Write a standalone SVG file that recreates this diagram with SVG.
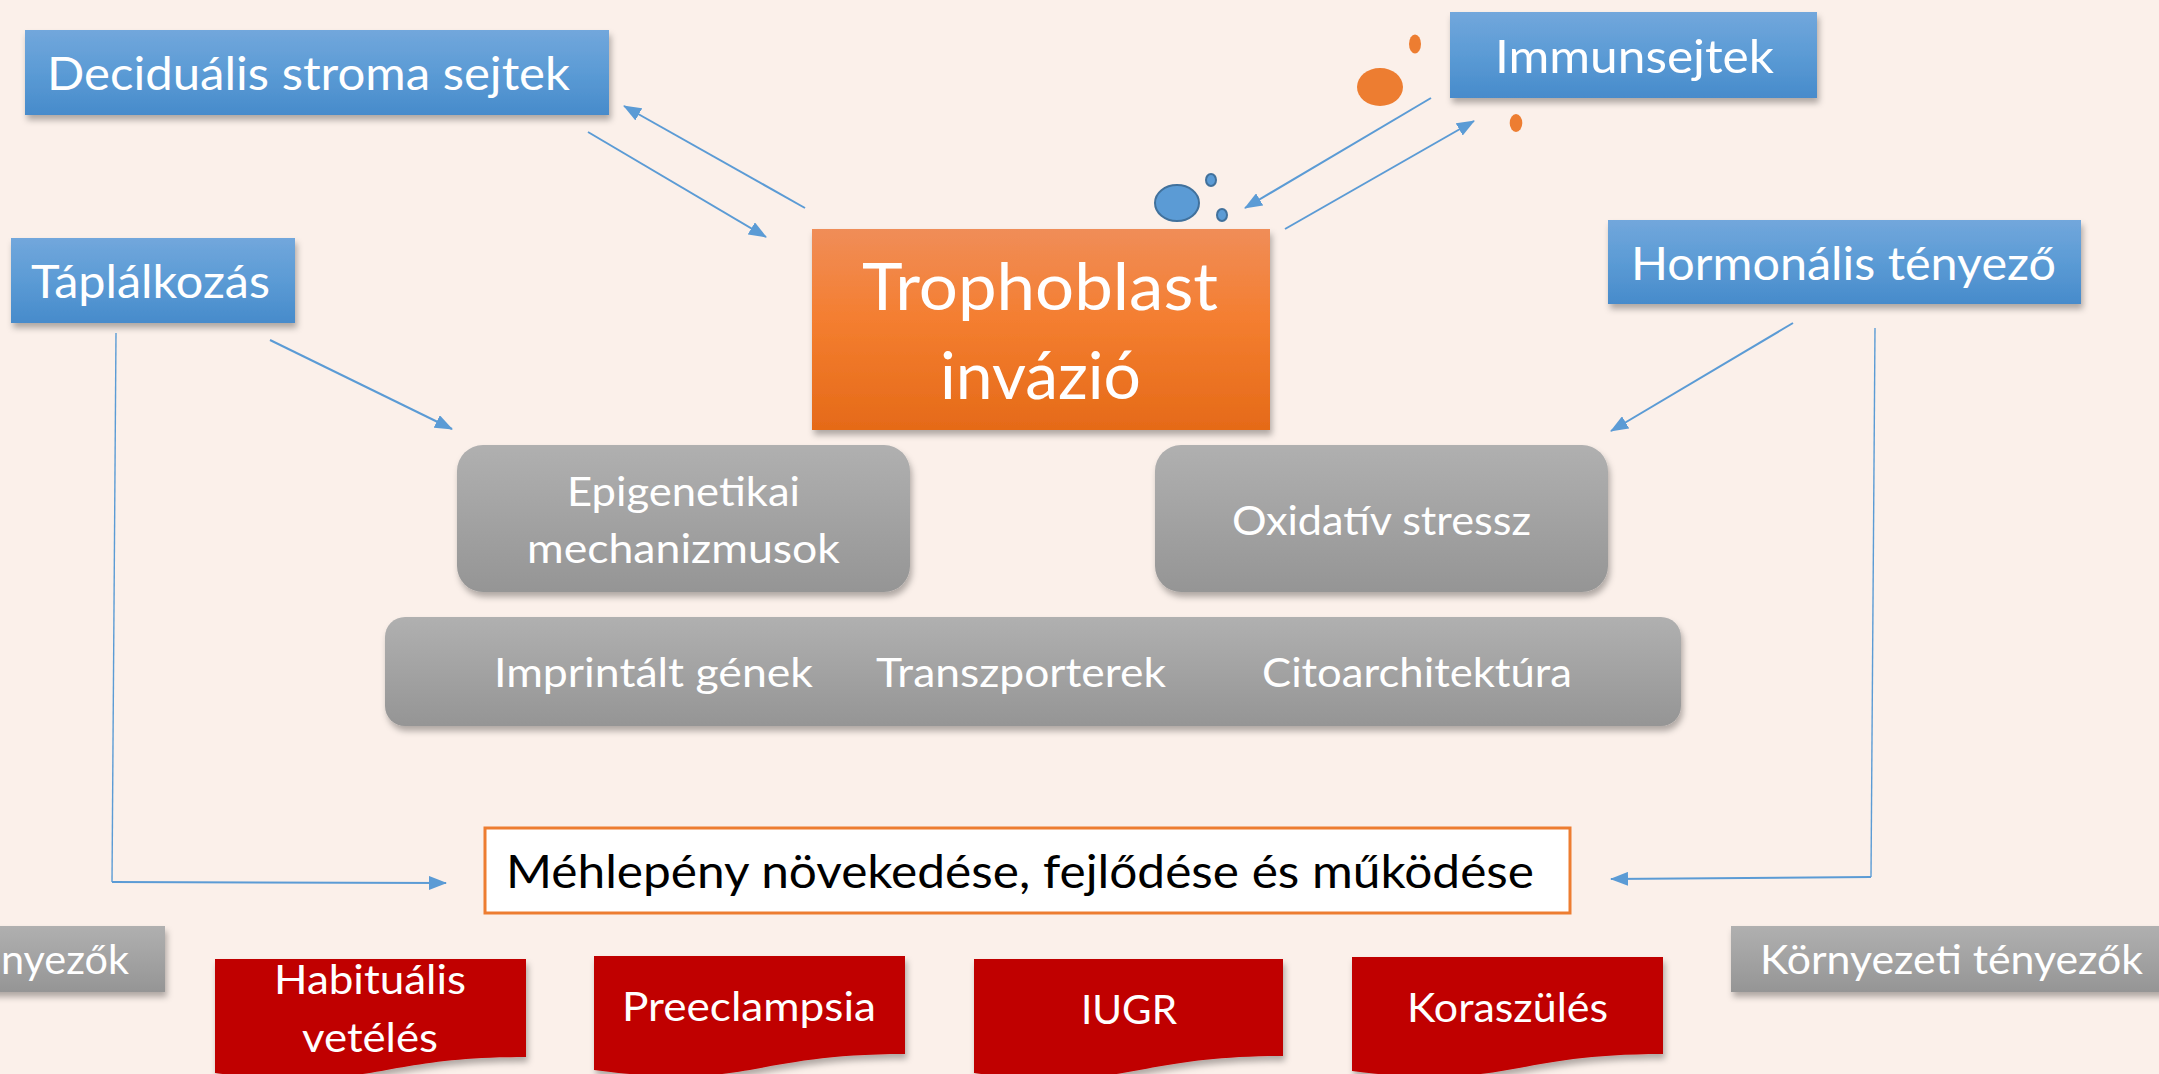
<svg xmlns="http://www.w3.org/2000/svg" width="2159" height="1074" viewBox="0 0 2159 1074">
<defs>
<style>
.t{font-family:Lato,"Open Sans","Liberation Sans",sans-serif;fill:#fff}
.blk{fill:#000}
.cn{stroke:#5B9BD5;stroke-width:2;fill:none}
.thin{stroke:#5B9BD5;stroke-width:1.4;fill:none}
</style>
<linearGradient id="gBlue" x1="0" y1="0" x2="0" y2="1"><stop offset="0" stop-color="#72A7DC"/><stop offset="0.5" stop-color="#5B9BD5"/><stop offset="1" stop-color="#478BCB"/></linearGradient>
<linearGradient id="gOr" x1="0" y1="0" x2="0" y2="1"><stop offset="0" stop-color="#F08D58"/><stop offset="0.45" stop-color="#F47E30"/><stop offset="1" stop-color="#E56A18"/></linearGradient>
<linearGradient id="gGrey" x1="0" y1="0" x2="0" y2="1"><stop offset="0" stop-color="#B0B0B0"/><stop offset="1" stop-color="#959595"/></linearGradient>
<filter id="sh" x="-10%" y="-10%" width="120%" height="130%"><feDropShadow dx="2" dy="5" stdDeviation="3" flood-color="#000" flood-opacity="0.3"/></filter>
<marker id="ah" markerUnits="userSpaceOnUse" markerWidth="18" markerHeight="14" refX="17" refY="7" orient="auto"><path d="M0,0 L18,7 L0,14 z" fill="#5B9BD5"/></marker>
</defs>
<rect x="0" y="0" width="2159" height="1074" fill="#FBF0EA"/>

<g id="connectors">
<line class="cn" x1="588" y1="132" x2="766" y2="237" marker-end="url(#ah)"/>
<line class="cn" x1="805" y1="208" x2="624" y2="106" marker-end="url(#ah)"/>
<line class="cn" x1="1431" y1="98" x2="1245" y2="208" marker-end="url(#ah)"/>
<line class="cn" x1="1285" y1="229" x2="1474" y2="121" marker-end="url(#ah)"/>
<line class="cn" x1="270" y1="340" x2="452" y2="429" marker-end="url(#ah)"/>
<line class="cn" x1="1793" y1="323" x2="1611" y2="431" marker-end="url(#ah)"/>
<line class="thin" x1="116" y1="333" x2="112" y2="882"/>
<line class="cn" x1="112" y1="882" x2="446" y2="883" stroke-width="2.5" marker-end="url(#ah)"/>
<line class="thin" x1="1875" y1="328" x2="1871" y2="877"/>
<line class="cn" x1="1871" y1="877" x2="1611" y2="879" stroke-width="2.5" marker-end="url(#ah)"/>
</g>

<g id="decidualis">
<rect x="25" y="30" width="584" height="85" fill="url(#gBlue)" filter="url(#sh)"/>
<text class="t" x="47" y="90" font-size="46" textLength="523" lengthAdjust="spacingAndGlyphs">Deciduális stroma sejtek</text>
</g>
<g id="taplalkozas">
<rect x="11" y="238" width="284" height="85" fill="url(#gBlue)" filter="url(#sh)"/>
<text class="t" x="31" y="298" font-size="47" textLength="239" lengthAdjust="spacingAndGlyphs">Táplálkozás</text>
</g>
<g id="immunsejtek">
<rect x="1450" y="12" width="367" height="86" fill="url(#gBlue)" filter="url(#sh)"/>
<text class="t" x="1495" y="73" font-size="47" textLength="279" lengthAdjust="spacingAndGlyphs">Immunsejtek</text>
</g>
<g id="hormonalis">
<rect x="1608" y="220" width="473" height="84" fill="url(#gBlue)" filter="url(#sh)"/>
<text class="t" x="1631" y="280" font-size="46" textLength="425" lengthAdjust="spacingAndGlyphs">Hormonális tényező</text>
</g>

<g id="cells">
<ellipse cx="1177" cy="203" rx="22" ry="18" fill="#5B9BD5" stroke="#41719C" stroke-width="2"/>
<ellipse cx="1211" cy="180" rx="5" ry="6" fill="#5B9BD5" stroke="#41719C" stroke-width="2"/>
<ellipse cx="1222" cy="215" rx="5" ry="6" fill="#5B9BD5" stroke="#41719C" stroke-width="2"/>
<ellipse cx="1380" cy="87" rx="23" ry="19" fill="#ED7D31"/>
<ellipse cx="1415" cy="44" rx="6" ry="9.5" fill="#ED7D31"/>
<ellipse cx="1516" cy="123" rx="6.3" ry="9" fill="#ED7D31"/>
</g>

<g id="trophoblast">
<rect x="812" y="229" width="458" height="201" fill="url(#gOr)" filter="url(#sh)"/>
<text class="t" x="862" y="310" font-size="65" textLength="356" lengthAdjust="spacingAndGlyphs">Trophoblast</text>
<text class="t" x="940" y="399" font-size="65" textLength="201" lengthAdjust="spacingAndGlyphs">invázió</text>
</g>

<g id="epigenetikai">
<rect x="457" y="445" width="453" height="147" rx="26" ry="26" fill="url(#gGrey)" filter="url(#sh)"/>
<text class="t" x="567" y="506" font-size="40" textLength="233" lengthAdjust="spacingAndGlyphs">Epigenetikai</text>
<text class="t" x="527" y="563" font-size="40" textLength="313" lengthAdjust="spacingAndGlyphs">mechanizmusok</text>
</g>
<g id="oxidativ">
<rect x="1155" y="445" width="453" height="147" rx="26" ry="26" fill="url(#gGrey)" filter="url(#sh)"/>
<text class="t" x="1232" y="535" font-size="41" textLength="299" lengthAdjust="spacingAndGlyphs">Oxidatív stressz</text>
</g>
<g id="genek">
<rect x="385" y="617" width="1296" height="109" rx="20" ry="20" fill="url(#gGrey)" filter="url(#sh)"/>
<text class="t" x="494" y="687" font-size="41" textLength="319" lengthAdjust="spacingAndGlyphs">Imprintált gének</text>
<text class="t" x="876" y="687" font-size="41" textLength="290" lengthAdjust="spacingAndGlyphs">Transzporterek</text>
<text class="t" x="1262" y="687" font-size="41" textLength="310" lengthAdjust="spacingAndGlyphs">Citoarchitektúra</text>
</g>

<g id="mehlepeny">
<rect x="485" y="828" width="1085" height="85" fill="#fff" stroke="#ED7D31" stroke-width="3"/>
<text class="t blk" x="506" y="888" font-size="46" textLength="1028" lengthAdjust="spacingAndGlyphs">Méhlepény növekedése, fejlődése és működése</text>
</g>

<g id="kornyezeti-bal">
<rect x="-283" y="926" width="448" height="66" fill="url(#gGrey)" filter="url(#sh)"/>
<text class="t" x="1" y="974" font-size="40" textLength="128" lengthAdjust="spacingAndGlyphs">nyezők</text>
</g>
<g id="kornyezeti-jobb">
<rect x="1731" y="926" width="448" height="66" fill="url(#gGrey)" filter="url(#sh)"/>
<text class="t" x="1760" y="974" font-size="40" textLength="383" lengthAdjust="spacingAndGlyphs">Környezeti tényezők</text>
</g>

<g id="habitualis">
<path d="M215,959 H526 V1057 C370.5,1057 370.5,1094 215,1073 Z" fill="#C00000" filter="url(#sh)"/>
<text class="t" x="274" y="994" font-size="41" textLength="192" lengthAdjust="spacingAndGlyphs">Habituális</text>
<text class="t" x="302" y="1052" font-size="41" textLength="136" lengthAdjust="spacingAndGlyphs">vetélés</text>
</g>
<g id="preeclampsia">
<path d="M594,956 H905 V1054 C749.5,1054 749.5,1091 594,1070 Z" fill="#C00000" filter="url(#sh)"/>
<text class="t" x="622" y="1021" font-size="41" textLength="254" lengthAdjust="spacingAndGlyphs">Preeclampsia</text>
</g>
<g id="iugr">
<path d="M974,959 H1283 V1056 C1128.5,1056 1128.5,1093 974,1073 Z" fill="#C00000" filter="url(#sh)"/>
<text class="t" x="1081" y="1024" font-size="41" textLength="96" lengthAdjust="spacingAndGlyphs">IUGR</text>
</g>
<g id="koraszules">
<path d="M1352,957 H1663 V1054 C1507.5,1054 1507.5,1091 1352,1071 Z" fill="#C00000" filter="url(#sh)"/>
<text class="t" x="1407" y="1022" font-size="41" textLength="201" lengthAdjust="spacingAndGlyphs">Koraszülés</text>
</g>
</svg>
